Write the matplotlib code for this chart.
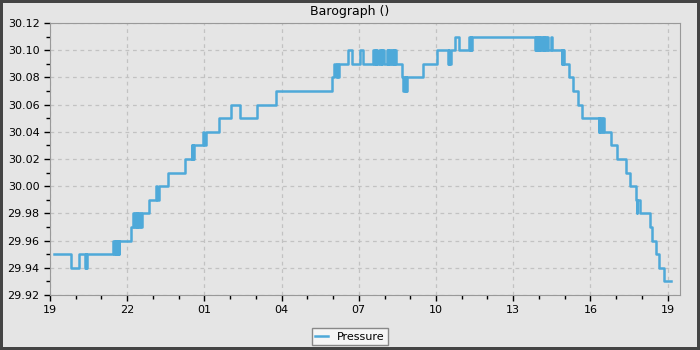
import pandas as pd
import matplotlib
matplotlib.use("Agg")
import matplotlib.pyplot as plt
import matplotlib.dates as mdates

# step readings (time of change, pressure in inHg)
times = [
    "05-01 19:10", "05-01 19:48", "05-01 20:07", "05-01 20:22", "05-01 20:24", "05-01 20:25", "05-01 20:27",
    "05-01 21:28", "05-01 21:30", "05-01 21:31", "05-01 21:33", "05-01 21:35", "05-01 21:37", "05-01 21:39",
    "05-01 21:40", "05-01 21:42", "05-01 22:09", "05-01 22:14", "05-01 22:16", "05-01 22:18", "05-01 22:20",
    "05-01 22:22", "05-01 22:24", "05-01 22:26", "05-01 22:28", "05-01 22:31", "05-01 22:33", "05-01 22:34",
    "05-01 22:52", "05-01 23:06", "05-01 23:09", "05-01 23:15", "05-01 23:34",
    "05-02 00:15", "05-02 00:31", "05-02 00:32", "05-02 00:33", "05-02 00:34", "05-02 00:35", "05-02 00:56",
    "05-02 01:00", "05-02 01:04", "05-02 01:34", "05-02 02:03", "05-02 02:24", "05-02 03:03", "05-02 03:47",
    "05-02 05:57", "05-02 06:03", "05-02 06:07", "05-02 06:09", "05-02 06:11", "05-02 06:13", "05-02 06:34",
    "05-02 06:44", "05-02 07:03", "05-02 07:11", "05-02 07:33", "05-02 07:35", "05-02 07:37", "05-02 07:39",
    "05-02 07:41", "05-02 07:43", "05-02 07:47", "05-02 07:49", "05-02 07:51", "05-02 07:53", "05-02 07:55",
    "05-02 07:58", "05-02 08:05", "05-02 08:07", "05-02 08:09", "05-02 08:11", "05-02 08:13", "05-02 08:15",
    "05-02 08:17", "05-02 08:19", "05-02 08:21", "05-02 08:23", "05-02 08:25", "05-02 08:27", "05-02 08:40",
    "05-02 08:44", "05-02 08:46", "05-02 08:47", "05-02 08:49", "05-02 08:50", "05-02 08:52", "05-02 09:29",
    "05-02 10:02", "05-02 10:28", "05-02 10:30", "05-02 10:31", "05-02 10:35", "05-02 10:44", "05-02 10:54",
    "05-02 11:18", "05-02 11:19", "05-02 11:21", "05-02 11:22", "05-02 11:25",
    "05-02 13:52", "05-02 13:53", "05-02 13:54", "05-02 13:55", "05-02 13:56", "05-02 13:57", "05-02 13:58",
    "05-02 14:00", "05-02 14:01", "05-02 14:03", "05-02 14:05", "05-02 14:07", "05-02 14:09", "05-02 14:11",
    "05-02 14:13", "05-02 14:14", "05-02 14:16", "05-02 14:19", "05-02 14:21", "05-02 14:28", "05-02 14:30",
    "05-02 14:53", "05-02 14:54", "05-02 14:56", "05-02 14:57", "05-02 14:59", "05-02 15:11", "05-02 15:19",
    "05-02 15:31", "05-02 15:41", "05-02 16:19", "05-02 16:21", "05-02 16:23", "05-02 16:25", "05-02 16:28",
    "05-02 16:29", "05-02 16:31", "05-02 16:48", "05-02 17:02", "05-02 17:23", "05-02 17:33", "05-02 17:46",
    "05-02 17:48", "05-02 17:49", "05-02 17:56", "05-02 18:20", "05-02 18:23", "05-02 18:32", "05-02 18:41",
    "05-02 18:52", "05-02 19:08",
]
pressure = [
    29.95, 29.94, 29.95, 29.94, 29.95, 29.94, 29.95,
    29.96, 29.95, 29.96, 29.95, 29.96, 29.95, 29.96,
    29.95, 29.96, 29.97, 29.98, 29.97, 29.98, 29.97,
    29.98, 29.97, 29.98, 29.97, 29.98, 29.97, 29.98,
    29.99, 30.00, 29.99, 30.00, 30.01,
    30.02, 30.03, 30.02, 30.03, 30.02, 30.03, 30.04,
    30.03, 30.04, 30.05, 30.06, 30.05, 30.06, 30.07,
    30.08, 30.09, 30.08, 30.09, 30.08, 30.09, 30.10,
    30.09, 30.10, 30.09, 30.10, 30.09, 30.10, 30.09,
    30.10, 30.09, 30.10, 30.09, 30.10, 30.09, 30.10,
    30.09, 30.10, 30.09, 30.10, 30.09, 30.10, 30.09,
    30.10, 30.09, 30.10, 30.09, 30.10, 30.09, 30.08,
    30.07, 30.08, 30.07, 30.08, 30.07, 30.08, 30.09,
    30.10, 30.09, 30.10, 30.09, 30.10, 30.11, 30.10,
    30.11, 30.10, 30.11, 30.10, 30.11,
    30.10, 30.11, 30.10, 30.11, 30.10, 30.11, 30.10,
    30.11, 30.10, 30.11, 30.10, 30.11, 30.10, 30.11,
    30.10, 30.11, 30.10, 30.11, 30.10, 30.11, 30.10,
    30.09, 30.10, 30.09, 30.10, 30.09, 30.08, 30.07,
    30.06, 30.05, 30.04, 30.05, 30.04, 30.05, 30.04,
    30.05, 30.04, 30.03, 30.02, 30.01, 30.00, 29.99,
    29.98, 29.99, 29.98, 29.97, 29.96, 29.95, 29.94,
    29.93, 29.93,
]

t = pd.to_datetime(["2024-" + s for s in times])
x_start = pd.Timestamp("2024-05-01 19:00")
x_end = pd.Timestamp("2024-05-02 19:29")

bg = "#e5e5e5"
fig = plt.figure(figsize=(7, 3.5), dpi=100, facecolor=bg)
fig.patch.set_edgecolor("#444444")
fig.patch.set_linewidth(4)
ax = fig.add_axes([50 / 700, 1 - 295 / 350, 630 / 700, 272 / 350])
ax.set_facecolor(bg)

ax.plot(t, pressure, drawstyle="steps-post", color="#4ea9d9", lw=1.8, label="Pressure")

ax.set_xlim(x_start, x_end)
ax.set_ylim(29.92, 30.12)
ax.xaxis.set_major_locator(mdates.HourLocator(byhour=[1, 4, 7, 10, 13, 16, 19, 22]))
ax.xaxis.set_minor_locator(mdates.HourLocator())
ax.xaxis.set_major_formatter(mdates.DateFormatter("%H"))
ax.yaxis.set_major_locator(plt.MultipleLocator(0.02))
ax.yaxis.set_minor_locator(plt.MultipleLocator(0.01))
ax.yaxis.set_major_formatter(plt.FormatStrFormatter("%.2f"))

ax.tick_params(which="major", length=4, width=1, labelsize=8, color="black")
ax.tick_params(which="minor", length=3, width=1, color="black")
for sp in ax.spines.values():
    sp.set_color("#999999")

ax.grid(True, which="major", color="#c2c2c2", ls=(0, (3, 3)), lw=0.9)

fig.text(0.5, 1 - 11 / 350, "Barograph ()", ha="center", va="center", fontsize=9)

leg = fig.legend(loc="lower center", bbox_to_anchor=(0.5, 0.0), fontsize=8,
                 fancybox=False, framealpha=1, handlelength=1.2, borderpad=0.3,
                 borderaxespad=0.45)
leg.get_frame().set_facecolor("#f5f5f5")
leg.get_frame().set_edgecolor("#888888")

fig.savefig("out.png", dpi=100, facecolor=bg, edgecolor=fig.patch.get_edgecolor())
